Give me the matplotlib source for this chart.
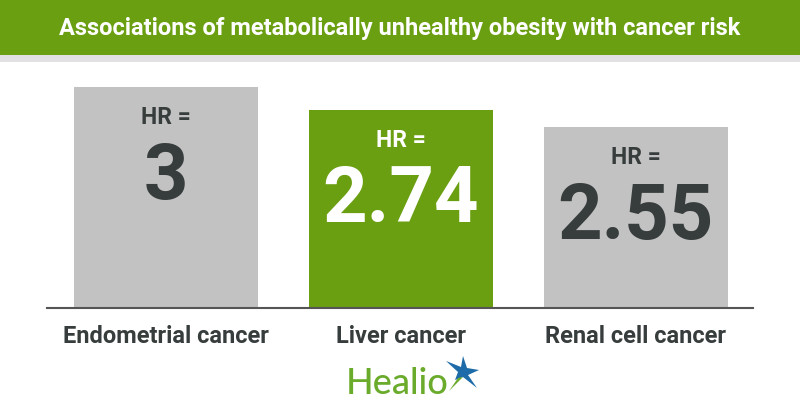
import matplotlib
matplotlib.use("Agg")
import matplotlib.pyplot as plt
from matplotlib.patches import Rectangle, Polygon

# veriler
kategoriler = ["Endometrial cancer", "Liver cancer", "Renal cell cancer"]
hr_degerleri = [3.0, 2.74, 2.55]
hr_etiketleri = ["3", "2.74", "2.55"]
vurgulu = [False, True, False]

baslik = "Associations of metabolically unhealthy obesity with cancer risk"

YESIL = "#6a9f12"
GRI = "#c2c2c2"
KOYU = "#373c3d"

plt.rcParams["font.family"] = ["Roboto", "DejaVu Sans"]

fig = plt.figure(figsize=(8, 4.2), dpi=100)
W, H = 800, 420

# ust yesil bant + gri serit
fig.add_artist(Rectangle((0, 1 - 55 / H), 1, 55 / H, transform=fig.transFigure, color=YESIL, lw=0))
fig.add_artist(Rectangle((0, 1 - 62 / H), 1, 7 / H, transform=fig.transFigure, color="#e2e0e3", lw=0))
fig.text(0.5, 1 - 29 / H, baslik, ha="center", va="center", color="white",
         fontsize=17, fontweight="bold")

ax = fig.add_axes([47 / W, 1 - 308 / H, 706 / W, 246 / H])
x = list(range(len(kategoriler)))
renkler = [YESIL if v else GRI for v in vurgulu]
ax.bar(x, hr_degerleri, width=0.784, color=renkler, bottom=0, zorder=2)
ax.set_xlim(-0.507, 2.5)
ax.set_ylim(0.51, 0.51 + 246 / 88.9)

for xi, deger, etiket, v in zip(x, hr_degerleri, hr_etiketleri, vurgulu):
    renk = "white" if v else KOYU
    ax.annotate("HR =", (xi, deger), xytext=(0, -22), textcoords="offset points",
                ha="center", va="center", fontsize=16.5, fontweight="bold", color=renk)
    ax.annotate(etiket, (xi, deger), xytext=(0, -66), textcoords="offset points",
                ha="center", va="center", fontsize=56, fontweight="bold", color=renk)

for s in ["top", "right", "left"]:
    ax.spines[s].set_visible(False)
ax.spines["bottom"].set_color("#555555")
ax.spines["bottom"].set_linewidth(1.5)
ax.set_yticks([])
ax.set_xticks(x)
ax.set_xticklabels(kategoriler, fontsize=17, fontweight="bold", color=KOYU)
ax.tick_params(axis="x", length=0, pad=12)

# Healio logosu
fig.text(397 / W, 1 - 384 / H, "Healio", ha="center", va="center", fontsize=26,
         fontweight="medium", color="#6aab2b", family=["Lato", "DejaVu Sans"])
yildiz = [(446, 361), (461, 367), (463, 356), (467, 368), (479, 370),
          (468, 375), (477, 388), (463, 377), (455, 380), (458, 372)]
fig.add_artist(Polygon([(px / W, 1 - py / H) for px, py in yildiz], closed=True,
                       transform=fig.transFigure, color="#1d6ba8", lw=0))
kuyruk = [(458, 378), (463, 377), (449, 391)]
fig.add_artist(Polygon([(px / W, 1 - py / H) for px, py in kuyruk], closed=True,
                       transform=fig.transFigure, color="#6aab2b", lw=0))

fig.savefig("out.png", dpi=100)
